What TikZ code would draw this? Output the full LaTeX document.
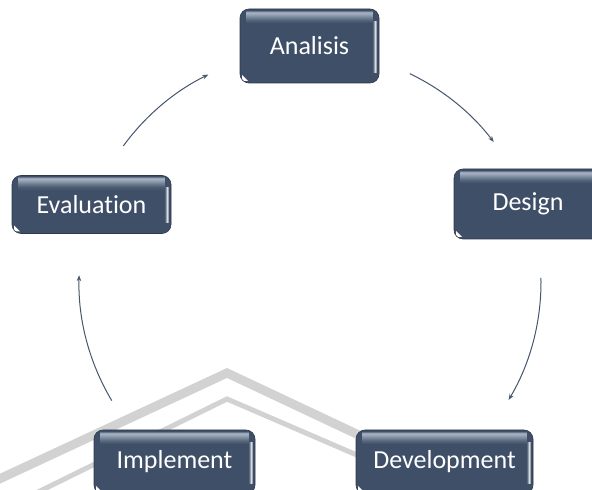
\documentclass[tikz,border=0pt]{standalone}
\usepackage{fontspec}
\setmainfont{Carlito}[Ligatures=CommonOff]
\usetikzlibrary{arrows.meta,calc}
\definecolor{boxbase}{HTML}{3E4F67}
\definecolor{boxedge}{HTML}{2E3B4D}
\definecolor{boxhi}{HTML}{B4C0CF}
\definecolor{arrowc}{HTML}{46566C}
\definecolor{wmark}{HTML}{D2D2D2}
\begin{document}
\begin{tikzpicture}[x=1pt,y=1pt,
  stagebox/.style={rounded corners=9pt, fill=boxbase, draw=boxedge, line width=0.6pt,
    text=white, font=\fontsize{26}{30}\selectfont, inner sep=0pt,
    path picture={
      \foreach \i/\m in {0/35,1/75,2/85,3/78,4/68,5/58,6/48,7/38,8/28,9/20,10/12,11/6} {
        \fill[boxhi!\m!boxbase, sharp corners]
          ([xshift=6pt,yshift=-2pt-\i pt]path picture bounding box.north west) rectangle
          ([xshift=-6pt,yshift=-3.05pt-\i pt]path picture bounding box.north east);
      }
      \foreach \j/\m in {0/15,1/45,2/80,3/50} {
        \fill[white!\m!boxbase, sharp corners]
          ([xshift=-6pt+\j pt,yshift=-12pt]path picture bounding box.north east) rectangle
          ([xshift=-4.95pt+\j pt,yshift=10pt]path picture bounding box.south east);
      }
      \fill[white, sharp corners]
        ([xshift=2pt,yshift=2pt]path picture bounding box.south west) -- ++(6pt,0) -- ++(-6pt,6pt) -- cycle;
    }},
  cyc/.style={draw=arrowc, line width=1pt, -{Stealth[length=6pt,width=4.5pt]}},
  wm/.style={draw=wmark, line join=miter}
]
\useasboundingbox (0,0) rectangle (592,490);
\clip (0,0) rectangle (592,490);
\fill[white] (0,0) rectangle (592,490);

% watermark
\draw[wm, line width=9pt] (-5,9) -- (227,117) -- (380,45);
\draw[wm, line width=5pt] (32,-5) -- (227,91) -- (380,25);

% stages
\node[stagebox, minimum width=139pt, minimum height=74pt] (ana) at (309.5,444) {Analisis};
\node[stagebox, minimum width=148pt, minimum height=70pt] (des) at (528,286) {Design};
\node[stagebox, minimum width=177pt, minimum height=64pt] (dev) at (444.5,28) {Development};
\node[stagebox, minimum width=161pt, minimum height=64pt] (imp) at (174.5,28) {Implement};
\node[stagebox, minimum width=159pt, minimum height=58pt] (eva) at (91.5,285.5) {Evaluation};

% cycle arrows on a circle
\coordinate (c) at (310,208);
\coordinate (a1) at ($(c)+(64.4:231)$);
\coordinate (a2) at ($(c)+(1:231)$);
\coordinate (a3) at ($(c)+(210.9:231)$);
\coordinate (a4) at ($(c)+(143.9:231)$);
\draw[cyc] (a1) arc[start angle=64.4, end angle=37.3, radius=231];
\draw[cyc] (a2) arc[start angle=1, end angle=-30.7, radius=231];
\draw[cyc] (a3) arc[start angle=210.9, end angle=178.3, radius=231];
\draw[cyc] (a4) arc[start angle=143.9, end angle=116.1, radius=231];
\end{tikzpicture}
\end{document}
